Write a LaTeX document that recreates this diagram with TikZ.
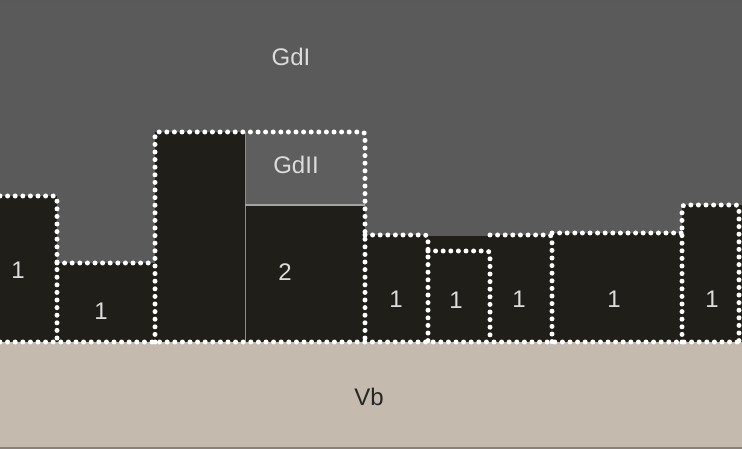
\documentclass[tikz,border=0pt]{standalone}
\usepackage{fontspec}
\setmainfont{Liberation Sans}
\definecolor{bggray}{HTML}{5A5A5A}
\definecolor{gdtwo}{HTML}{5E5E5E}
\definecolor{darkblk}{HTML}{1F1E19}
\definecolor{beige}{HTML}{C4BAAE}
\definecolor{lighttxt}{HTML}{DCDCDC}
\definecolor{darktxt}{HTML}{262626}
\definecolor{sepline}{HTML}{8C8C8C}
\begin{document}
\begin{tikzpicture}[x=1pt,y=-1pt,
  blk/.style={fill=darkblk,draw=none,inner sep=0pt,outer sep=0pt,anchor=north west},
  lbl/.style={text=lighttxt,font=\fontsize{24}{28}\selectfont,inner sep=0pt},
  dotline/.style={draw=white,line width=5pt,dash pattern=on 0pt off 7.6pt,line cap=round,rounded corners=3pt}]
\useasboundingbox (0,0) rectangle (742,449);
\fill[bggray] (0,0) rectangle (742,342);
\fill[beige] (0,342) rectangle (742,449);
\draw[line width=3pt,draw=gray!70!black] (0,1) -- (742,1);
\draw[line width=2pt,draw=beige!70!black] (0,448) -- (742,448);
% blocks
\node[blk,minimum width=57pt,minimum height=146pt] (A) at (0,196) {};
\node[blk,minimum width=98pt,minimum height=79pt] (B) at (57,263) {};
\node[blk,minimum width=90pt,minimum height=210pt] (C) at (155,132) {};
\node[fill=gdtwo,draw=none,inner sep=0pt,outer sep=0pt,anchor=north west,minimum width=120pt,minimum height=73pt] (G2) at (245,132) {};
\node[blk,minimum width=120pt,minimum height=137pt] (D) at (245,205) {};
\node[blk,minimum width=63pt,minimum height=107pt] (E) at (365,235) {};
\node[blk,minimum width=62pt,minimum height=106pt] (F) at (428,236) {};
\node[blk,minimum width=62pt,minimum height=107pt] (G) at (490,235) {};
\node[blk,minimum width=130pt,minimum height=109pt] (H) at (552,233) {};
\node[blk,minimum width=60pt,minimum height=137pt] (I) at (682,205) {};
% separators
\draw[sepline,line width=1pt] (C.north east) -- (C.south east);
\draw[sepline!80!white,line width=1.2pt] (D.north west) -- (D.north east);
% dotted outlines
\draw[dotline] (0,196) -- (57,196) -- (57,342);
\draw[dotline] (57,263) -- (155,263);
\draw[dotline] (155,342) -- (155,132) -- (365,132) -- (365,342);
\draw[dotline] (365,235) -- (428,235) -- (428,342);
\draw[dotline] (428,251) -- (490,251) -- (490,342);
\draw[dotline] (490,235) -- (552,235) -- (552,342);
\draw[dotline] (552,233) -- (682,233);
\draw[dotline] (682,342) -- (682,205) -- (739,205) -- (739,342);
\draw[dotline] (0,342) -- (742,342);
% labels
\node[lbl] (tGdI) at (291,57) {GdI};
\node[lbl] (tGdII) at (296,165) {GdII};
\node[lbl] (t2) at (285,272) {2};
\node[lbl] (tA) at (18,270) {1};
\node[lbl] (tB) at (101,311) {1};
\node[lbl] (tE) at (396,299) {1};
\node[lbl] (tF) at (456,300) {1};
\node[lbl] (tG) at (519,299) {1};
\node[lbl] (tH) at (614,299) {1};
\node[lbl] (tI) at (712,299) {1};
\node[lbl,text=darktxt] (tVb) at (369,397) {Vb};
\end{tikzpicture}
\end{document}
